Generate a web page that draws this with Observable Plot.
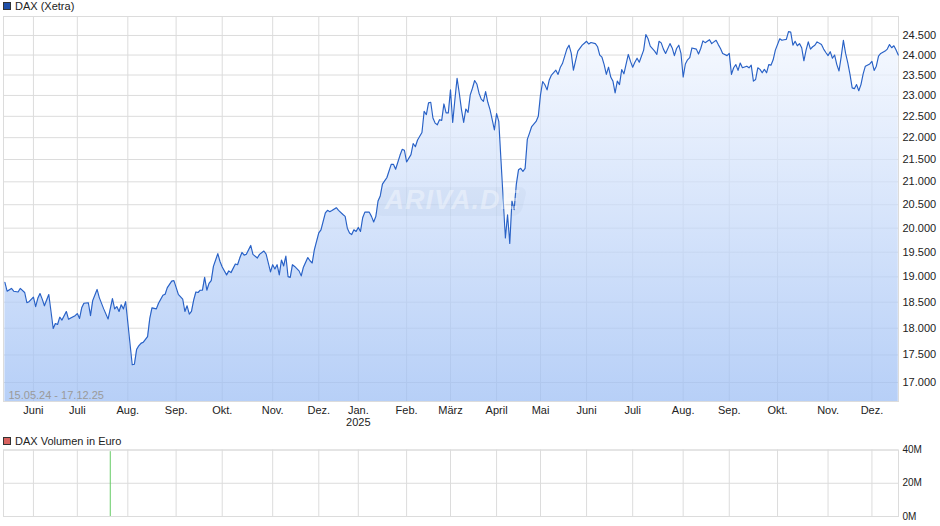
<!DOCTYPE html>
<html>
<head>
<meta charset="utf-8">
<script src="https://cdn.jsdelivr.net/npm/d3@7"></script>
<script src="https://cdn.jsdelivr.net/npm/@observablehq/plot@0.6"></script>
<style>
  html, body { margin: 0; padding: 0; background: #fff; }
  #wrap { position: relative; width: 940px; height: 526px; overflow: hidden;
          font-family: "Liberation Sans", Arial, sans-serif; }
  .legend { position: absolute; left: 3px; height: 12px; font-size: 11px; line-height: 12px;
            color: #222; display: flex; align-items: center; white-space: nowrap; }
  .sw { width: 6px; height: 6px; border: 1px solid #333; margin-right: 4px; }
  .chart { position: absolute; left: 0; }
  #wm { position: absolute; left: 378px; top: 187px; width: 146px; height: 29px;
        border-radius: 8px; background: rgba(110,130,165,0.06); transform: skewX(-14deg); }
  #wmText { position: absolute; left: 382px; top: 185px; width: 140px; text-align: center;
        font: italic bold 27px "Liberation Sans", Arial, sans-serif; letter-spacing: 1px;
        color: rgba(255,255,255,0.38); }
</style>
</head>
<body>
<div id="wrap">
  <div id="main" class="chart" style="top:0"></div>
  <div id="vol" class="chart" style="top:430px"></div>
  <div id="wm"></div>
  <div id="wmText">ARIVA.DE</div>
  <div class="legend" style="top:0px"><div class="sw" style="background:#1f4fa8"></div>DAX (Xetra)</div>
  <div class="legend" style="top:435px"><div class="sw" style="background:#d9625f"></div>DAX Volumen in Euro</div>
</div>
<script>
// ---- data: DAX (Xetra) closes, x = trading session number since 15.05.24 ----
const sessionDay = [
  0,1,3,4,6,7,9,10,11,13,
  14,15,16,17,18,20,22,23,24,25,
  26,28,29,30,32,33,34,35,36,38,
  39,40,42,43,45,47,49,50,51,52,
  53,54,55,58,59,60,61,62,63,65,
  66,67,69,70,72,73,74,76,77,79,
  81,82,83,84,85,86,87,88,89,90,
  91,92,93,94,95,97,98,99,101,102,
  103,105,106,107,108,109,110,112,113,115,
  116,118,119,121,122,123,124,125,126,127,
  128,129,130,131,132,134,135,136,138,139,
  140,141,143,144,145,146,147,148,149,151,
  152,154,155,156,157,158,159,160,161,162,
  163,164,166,167,168,169,170,171,172,173,
  174,176,177,178,180,181,182,183,185,186,
  187,188,190,191,192,193,194,195,196,197,
  198,199,200,201,202,203,204,205,206,207,
  208,209,210,211,212,213,214,215,216,217,
  218,219,220,221,222,223,224,225,226,228,
  229,230,231,232,233,234,235,236,237,238,
  239,240,242,243,244,245,246,247,248,249,
  251,252,253,254,256,257,258,259,261,263,
  264,265,266,267,269,270,271,272,273,274,
  275,276,277,278,279,280,281,282,284,285,
  286,287,288,289,291,292,293,294,296,297,
  298,299,300,301,303,304,305,306,307,308,
  309,310,311,312,313,315,316,317,318,319,
  321,322,323,324,325,326,327,329,330,331,
  332,333,334,335,336,338,339,340,341,342,
  343,344,345,346,347,348,349,350,351,353,
  354,355,356,357,358,359,360,361,362,363,
  364,365,366,367,368,369,370,372,373,374,
  375,376,377,378,379,380,381,382,383,384,
  385,386,387,388,389,390,391,392,394,395,
  396,397,398,399,401,402,403,404,405,406,
  407
];
const daxClose = [
  18890,18715,18770,18715,18700,18770,18690,18490,18510,18600,
  18415,18575,18670,18560,18430,18650,17995,18090,18070,18210,
  18155,18320,18170,18195,18240,18280,18185,18390,18480,18490,
  18240,18530,18750,18590,18370,18175,18570,18370,18415,18320,
  18450,18370,18510,17320,17330,17600,17670,17715,17735,17840,
  18185,18390,18370,18480,18635,18655,18785,18915,18925,18655,
  18560,18320,18430,18270,18320,18540,18700,18690,18735,18735,
  18990,18735,18870,18925,19210,19470,19310,19200,19040,19120,
  19085,19260,19245,19380,19495,19440,19460,19640,19455,19380,
  19455,19525,19460,19100,19245,19160,19245,19040,19340,19220,
  19420,19005,18990,19245,19210,19120,19020,19195,19390,19325,
  19280,19555,19900,19965,20145,20325,20380,20350,20375,20435,
  20380,20290,20250,20000,19900,19865,19965,19930,20015,19930,
  20220,20340,20340,20250,20130,20250,20580,20690,20950,21020,
  21090,21390,21390,21280,21595,21730,21710,21445,21610,21865,
  21790,21945,22120,22620,22540,22820,22835,22460,22340,22300,
  22420,22405,22795,22580,22580,23135,22355,22895,23420,23055,
  22660,22355,22675,22595,23015,23175,23365,23280,23055,22910,
  22855,23095,22835,22660,22420,22180,22565,22380,21480,19795,
  20285,19680,20580,20395,20950,21270,21300,21230,21300,21960,
  22105,22260,22380,22500,23015,23340,23260,23135,23380,23500,
  23620,23515,23685,23785,24150,24250,24050,23620,24100,24250,
  24300,24350,24280,24320,24290,24210,24000,23945,23760,23515,
  23695,23450,23350,23060,23350,23265,23635,23530,24015,23840,
  23695,23820,23920,23820,24125,24525,24415,24225,24100,24015,
  24350,24310,24150,24040,24290,24180,23985,24165,24250,24040,
  23450,23775,23880,23935,24180,24150,24025,24165,24360,24315,
  24390,24290,24335,24375,24265,24165,24040,23985,24040,23515,
  23680,23760,23615,23800,23680,23720,23680,23745,23350,23390,
  23680,23640,23555,23640,23555,23760,23745,23880,24125,24415,
  24375,24390,24400,24600,24585,24250,24350,24235,24290,24185,
  23855,24125,24335,24150,24210,24250,24335,24265,24150,24065,
  23985,24085,23920,24000,23760,23600,23960,24375,24040,23800,
  23515,23185,23165,23265,23115,23265,23530,23720,23775,23840,
  23615,23720,23975,24040,24100,24150,24265,24185,24235,24125,
  24000
];
// month ticks (first session of each month)
const monthDays = [13,33,56,78,99,122,143,161,183,203,224,244,265,286,309,330,352,375,395];
const monthLabels = ["Juni","Juli","Aug.","Sep.","Okt.","Nov.","Dez.","Jan.\n2025","Feb.","März",
                     "April","Mai","Juni","Juli","Aug.","Sep.","Okt.","Nov.","Dez."];
const yTicks = [17000,17500,18000,18500,19000,19500,20000,20500,21000,21500,22000,22500,23000,23500,24000,24500];
const yTickLabels = ["17.000","17.500","18.000","18.500","19.000","19.500","20.000","20.500",
                     "21.000","21.500","22.000","22.500","23.000","23.500","24.000","24.500"];
const rangeLabel = "15.05.24 - 17.12.25";
// volume
const volDays = [48];
const volValues = [39e6];
const volTicks = [0, 20e6, 40e6];
const volTickLabels = ["0M","20M","40M"];

// ---- build ----
const series = sessionDay.map((d, i) => ({day: d, value: daxClose[i]}));
const months = monthDays.map((d, i) => ({day: d, label: monthLabels[i]}));
const yT = yTicks.map((v, i) => ({v, label: yTickLabels[i]}));
const vol = volDays.map((d, i) => ({day: d, value: volValues[i]}));
const vT = volTicks.map((v, i) => ({v, label: volTickLabels[i]}));

const xDomain = [-0.64, 407.1];
const yDomain = [16663, 24994];
const font = "Liberation Sans, Arial, sans-serif";

const main = Plot.plot({
  width: 940, height: 430,
  marginTop: 16, marginBottom: 29, marginLeft: 3, marginRight: 42,
  x: {domain: xDomain, axis: null},
  y: {type: "log", domain: yDomain, axis: null},
  style: {fontFamily: font, fontSize: "11px", background: "transparent", overflow: "visible"},
  marks: [
    Plot.ruleY(yTicks, {stroke: "#dcdcdc"}),
    Plot.ruleX(monthDays, {stroke: "#dcdcdc"}),
    Plot.areaY(series, {x: "day", y1: yDomain[0], y2: "value", fill: "url(#daxFill)", fillOpacity: 0.72}),
    Plot.frame({stroke: "#dcdcdc"}),
    Plot.lineY(series, {x: "day", y: "value", stroke: "#2861c6", strokeWidth: 1.15}),
    Plot.text(yT, {y: "v", text: "label", frameAnchor: "right", textAnchor: "start", dx: 4, fill: "#222", fontSize: 11}),
    Plot.text(months, {x: "day", text: "label", frameAnchor: "bottom", lineAnchor: "top", dy: 4.5,
                       lineHeight: 1.07, fill: "#222", fontSize: 11}),
    Plot.text([rangeLabel], {frameAnchor: "bottom-left", textAnchor: "start", lineAnchor: "bottom",
                             dx: 5, dy: -3, fill: "#9a9a9a", fontSize: 11})
  ]
});
d3.select(main).insert("defs", ":first-child").html(
  `<linearGradient id="daxFill" gradientUnits="userSpaceOnUse" x1="0" x2="0" y1="16" y2="401">
     <stop offset="0" stop-color="#f6f9ff"/>
     <stop offset="1" stop-color="#9bbdf4"/>
   </linearGradient>`);
document.getElementById("main").appendChild(main);

const volChart = Plot.plot({
  width: 940, height: 96,
  marginTop: 19.5, marginBottom: 10, marginLeft: 3, marginRight: 42,
  x: {domain: xDomain, axis: null},
  y: {domain: [0, 40e6], axis: null},
  style: {fontFamily: font, fontSize: "10px", background: "transparent", overflow: "visible"},
  marks: [
    Plot.ruleY(volTicks, {stroke: "#dcdcdc"}),
    Plot.ruleX(monthDays, {stroke: "#dcdcdc"}),
    Plot.frame({stroke: "#dcdcdc"}),
    Plot.ruleX(vol, {x: "day", y1: 0, y2: "value", stroke: "#66cc66", strokeWidth: 1}),
    Plot.text(vT, {y: "v", text: "label", frameAnchor: "right", textAnchor: "start", dx: 4, fill: "#222", fontSize: 10})
  ]
});
document.getElementById("vol").appendChild(volChart);
</script>
</body>
</html>
